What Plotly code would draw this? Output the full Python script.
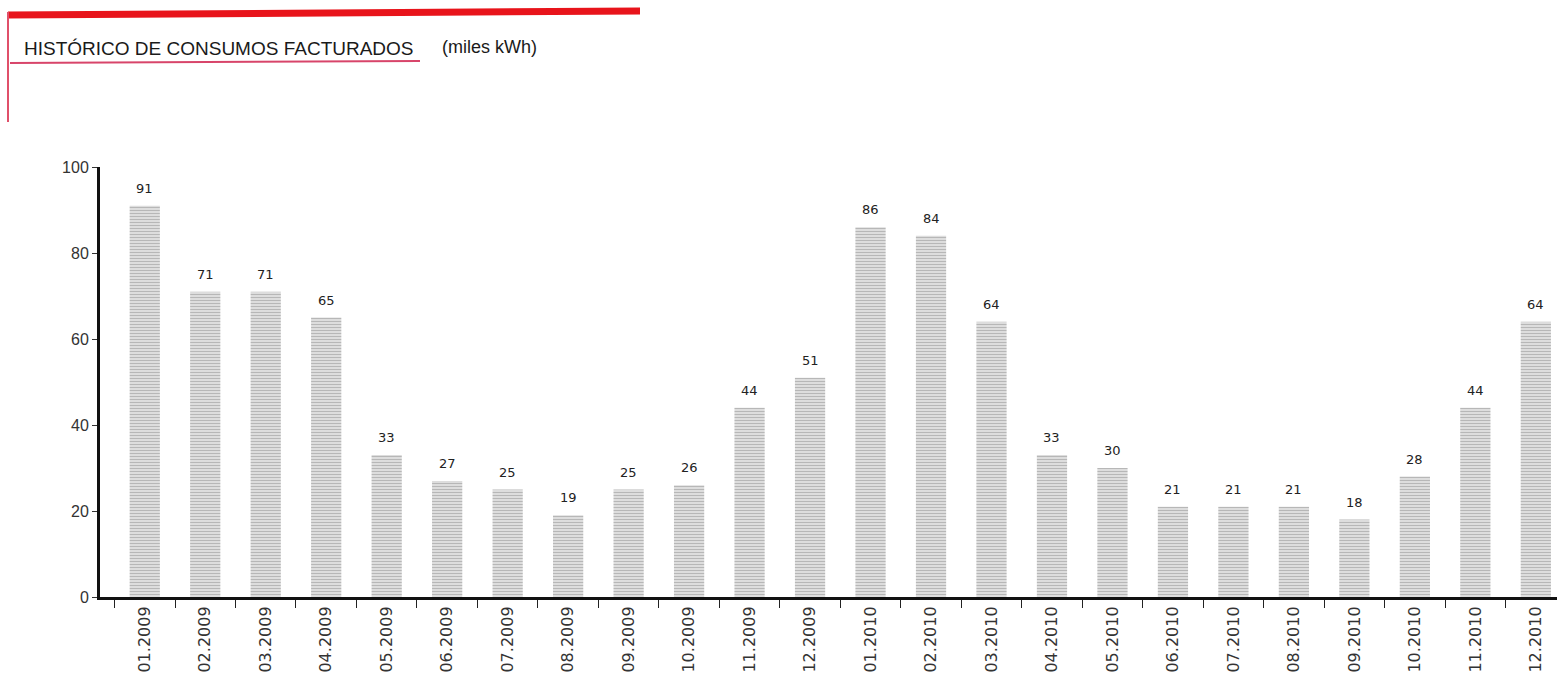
import plotly.graph_objects as go

# Billed consumption per month (thousand kWh)
months = [
    "01.2009", "02.2009", "03.2009", "04.2009", "05.2009", "06.2009",
    "07.2009", "08.2009", "09.2009", "10.2009", "11.2009", "12.2009",
    "01.2010", "02.2010", "03.2010", "04.2010", "05.2010", "06.2010",
    "07.2010", "08.2010", "09.2010", "10.2010", "11.2010", "12.2010",
]
consumption = [91, 71, 71, 65, 33, 27, 25, 19, 25, 26, 44, 51,
               86, 84, 64, 33, 30, 21, 21, 21, 18, 28, 44, 64]
y_ticks = [0, 20, 40, 60, 80, 100]

W, H = 1557, 696
M_L, M_R, M_T, M_B = 100, 0, 167, 99
PW, PH = W - M_L - M_R, H - M_T - M_B


def px_x(x):
    return (x - M_L) / PW


def px_y(y):
    return (H - M_B - y) / PH


fig = go.Figure(
    go.Bar(
        x=months,
        y=consumption,
        width=0.5,
        cliponaxis=False,
        marker=dict(
            color="#e2e2e2",
            line=dict(width=0),
            pattern=dict(shape="-", fgcolor="#8c8c8c", size=3, solidity=0.4),
        ),
        hoverinfo="x+y",
    )
)

# Red header rules
shapes = [
    dict(type="line", xref="paper", yref="paper",
         x0=px_x(8), y0=px_y(15), x1=px_x(640), y1=px_y(11),
         line=dict(color="#e8141b", width=7)),
    dict(type="line", xref="paper", yref="paper",
         x0=px_x(8), y0=px_y(12), x1=px_x(8), y1=px_y(122),
         line=dict(color="#e0506a", width=2)),
    dict(type="line", xref="paper", yref="paper",
         x0=px_x(10), y0=px_y(63), x1=px_x(420), y1=px_y(61),
         line=dict(color="#d8456a", width=2)),
]

annotations = [
    dict(xref="paper", yref="paper", x=px_x(22), y=px_y(48),
         xanchor="left", yanchor="middle", showarrow=False,
         text="HISTÓRICO DE CONSUMOS FACTURADOS",
         font=dict(family="Liberation Sans, Arial", size=19, color="#1a1a1a")),
    dict(xref="paper", yref="paper", x=px_x(440), y=px_y(47),
         xanchor="left", yanchor="middle", showarrow=False,
         text="(miles kWh)",
         font=dict(family="Liberation Sans, Arial", size=18, color="#1a1a1a")),
]

# Value labels floating above each bar (category index on the x axis)
for i, v in enumerate(consumption):
    annotations.append(dict(
        x=i, y=v, xref="x", yref="y",
        xanchor="center", yanchor="bottom", yshift=8, showarrow=False,
        text=str(v),
        font=dict(family="DejaVu Sans, Arial", size=13, color="#222"),
    ))

fig.update_layout(
    width=W, height=H,
    margin=dict(l=M_L, r=M_R, t=M_T, b=M_B),
    paper_bgcolor="white", plot_bgcolor="white",
    showlegend=False,
    shapes=shapes,
    annotations=annotations,
    font=dict(family="Liberation Sans, Arial"),
)

fig.update_xaxes(
    type="category",
    range=[-0.74, 23.35],
    showgrid=False,
    showline=True, linecolor="#111", linewidth=3,
    ticks="outside", tickson="boundaries", ticklen=8, tickcolor="#222", tickwidth=1,
    tickangle=-90,
    tickfont=dict(family="DejaVu Sans, Arial", size=16, color="#333"),
)
fig.update_yaxes(
    range=[0, 100],
    tickvals=y_ticks,
    showgrid=False, zeroline=False,
    showline=True, linecolor="#111", linewidth=3,
    ticks="outside", ticklen=5, tickcolor="#333",
    tickfont=dict(size=16, color="#333"),
)

fig.write_html("out.html")
